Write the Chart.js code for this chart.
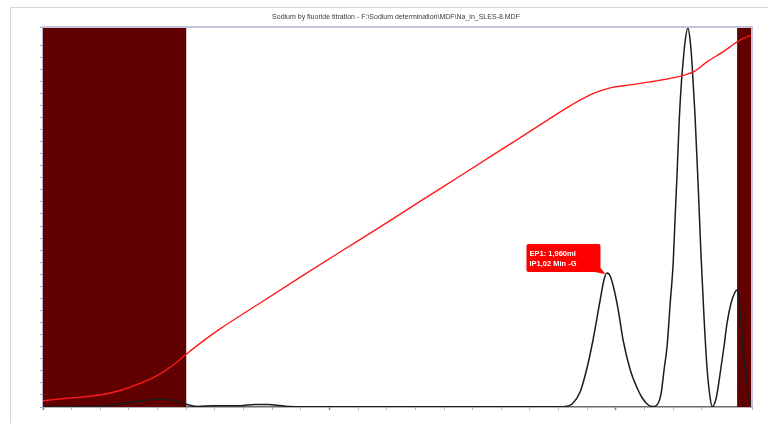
<!DOCTYPE html>
<html>
<head>
<meta charset="utf-8">
<script src="https://cdn.jsdelivr.net/npm/chart.js@4.4.1/dist/chart.umd.min.js"></script>
<style>
  html, body { margin: 0; padding: 0; background: #ffffff; }
  canvas { display: block; }
</style>
</head>
<body>
<canvas id="c" width="768" height="423"></canvas>
<script>
// ---- data (volume in ml) ----
const titleText = "Sodium by fluoride titration - F:\\Sodium determination\\MDF\\Na_in_SLES-8.MDF";

// Potential curve (red)
const potVolume = [0, 0.084, 0.199, 0.269, 0.339, 0.4015, 0.450, 0.499, 0.548, 0.618, 0.758, 0.897, 1.037, 1.177, 1.316, 1.456, 1.596, 1.735, 1.840, 1.910, 1.945, 1.987, 2.050, 2.119, 2.189, 2.242, 2.277, 2.318, 2.374, 2.434, 2.476];
const potential = [0.52, 0.72, 1.00, 1.37, 1.95, 2.65, 3.40, 4.35, 5.27, 6.47, 8.62, 10.74, 12.85, 14.93, 17.04, 19.15, 21.27, 23.38, 24.96, 25.87, 26.20, 26.49, 26.70, 26.95, 27.24, 27.53, 27.86, 28.61, 29.44, 30.43, 30.85];

// First derivative curve (black)
const derVolume = [0, 0.094, 0.199, 0.269, 0.339, 0.4015, 0.450, 0.496, 0.538, 0.594, 0.688, 0.740, 0.786, 0.828, 0.862, 0.897, 1.805, 1.823, 1.847, 1.875, 1.899, 1.920, 1.945, 1.959, 1.969, 1.980, 1.994, 2.008, 2.025, 2.050, 2.071, 2.092, 2.113, 2.130, 2.148, 2.158, 2.168, 2.179, 2.189, 2.200, 2.207, 2.214, 2.221, 2.228, 2.235, 2.242, 2.251, 2.259, 2.266, 2.276, 2.287, 2.297, 2.308, 2.318, 2.329, 2.336, 2.350, 2.364, 2.378, 2.388, 2.402, 2.416, 2.423, 2.430, 2.437, 2.444, 2.455, 2.461, 2.468, 2.475];
const derivative = [0.0, 0.13, 0.18, 0.79, 1.58, 2.03, 1.84, 0.79, 0.13, 0.34, 0.34, 0.66, 0.66, 0.39, 0.13, 0.08, 0.08, 0.13, 0.79, 3.95, 10.26, 17.63, 28.16, 33.68, 35.26, 34.47, 30.79, 25.53, 17.63, 9.74, 5.53, 2.37, 0.53, 0.13, 1.05, 3.68, 9.74, 16.32, 26.84, 38.16, 50.53, 62.37, 75.53, 84.74, 91.32, 96.58, 99.74, 96.58, 90.0, 76.84, 58.42, 40.0, 22.89, 10.26, 2.37, 0.13, 2.37, 8.95, 16.32, 22.11, 27.37, 30.26, 30.79, 28.16, 21.58, 15.00, 8.42, 3.68, 1.05, 0.26];

// Excluded (evaluation window) bands, ml
const bandStart = [0, 2.423];
const bandEnd = [0.5, 2.475];

// Endpoint annotation
const epVolume = [1.960];
const epLabels = [["EP1: 1,960ml", "IP1,02 Min -G"]];

const xMin = 0, xMax = 2.475;

function pts(xs, ys) { return xs.map((v, i) => ({ x: v, y: ys[i] })); }

const framePlugin = {
  id: 'frame',
  beforeDraw(chart) {
    const ctx = chart.ctx;
    ctx.save();
    ctx.fillStyle = '#ffffff';
    ctx.fillRect(0, 0, chart.width, chart.height);
    ctx.strokeStyle = '#d6d6cf';
    ctx.lineWidth = 1;
    ctx.beginPath();
    ctx.moveTo(10.5, chart.height);
    ctx.lineTo(10.5, 7.5);
    ctx.lineTo(chart.width, 7.5);
    ctx.stroke();
    ctx.restore();
  },
  beforeDatasetsDraw(chart) {
    const ctx = chart.ctx, a = chart.chartArea, x = chart.scales.x;
    ctx.save();
    ctx.fillStyle = '#600000';
    for (let i = 0; i < bandStart.length; i++) {
      const x0 = x.getPixelForValue(bandStart[i]);
      const x1 = x.getPixelForValue(bandEnd[i]);
      ctx.fillRect(x0, a.top, x1 - x0, a.bottom - a.top);
    }
    ctx.restore();
  },
  afterDatasetsDraw(chart) {
    const ctx = chart.ctx, a = chart.chartArea, x = chart.scales.x, y2 = chart.scales.y2;
    ctx.save();
    // top and right plot borders
    ctx.strokeStyle = '#c4c4dc';
    ctx.lineWidth = 2;
    ctx.beginPath();
    ctx.moveTo(a.left, a.top);
    ctx.lineTo(a.right, a.top);
    ctx.lineTo(a.right, a.bottom);
    ctx.stroke();

    // endpoint label
    for (let i = 0; i < epVolume.length; i++) {
      let best = 0, bestD = 1e9;
      derVolume.forEach((v, k) => { const d = Math.abs(v - epVolume[i]); if (d < bestD) { bestD = d; best = k; } });
      let pk = best;
      for (let k = Math.max(0, best - 3); k <= Math.min(derivative.length - 1, best + 3); k++) if (derivative[k] > derivative[pk]) pk = k;
      const px = x.getPixelForValue(epVolume[i]);
      const py = y2.getPixelForValue(derivative[pk]);
      const w = 74, h = 28;
      const right = px - 4, bottom = py - 1;
      const left = right - w, top = bottom - h;
      ctx.fillStyle = '#ff0000';
      ctx.beginPath();
      if (ctx.roundRect) ctx.roundRect(left, top, w, h, 2); else ctx.rect(left, top, w, h);
      ctx.fill();
      ctx.beginPath();
      ctx.moveTo(right - 6, bottom);
      ctx.lineTo(right, bottom - 4);
      ctx.lineTo(px + 1, py + 1);
      ctx.closePath();
      ctx.fill();
      ctx.fillStyle = '#ffffff';
      ctx.font = 'bold 7.5px "Liberation Sans", Arial, sans-serif';
      ctx.textBaseline = 'middle';
      ctx.fillText(epLabels[i][0], left + 3, top + 10);
      ctx.fillText(epLabels[i][1], left + 3, top + 19.5);
    }
    ctx.restore();
  }
};

new Chart(document.getElementById('c'), {
  type: 'line',
  data: {
    datasets: [
      {
        label: 'Potential',
        data: pts(potVolume, potential),
        yAxisID: 'y',
        borderColor: '#ff1a1a',
        borderWidth: 1.4,
        pointRadius: 0,
        cubicInterpolationMode: 'monotone',
        fill: false
      },
      {
        label: 'dE/dV',
        data: pts(derVolume, derivative),
        yAxisID: 'y2',
        borderColor: '#1c1c1c',
        borderWidth: 1.5,
        pointRadius: 0,
        cubicInterpolationMode: 'monotone',
        fill: false
      }
    ]
  },
  options: {
    responsive: false,
    animation: false,
    devicePixelRatio: 1,
    layout: { padding: { left: 40, right: 16, top: 0, bottom: 13 } },
    plugins: {
      legend: { display: false },
      tooltip: { enabled: false },
      title: {
        display: true,
        text: titleText,
        color: '#3a3a3a',
        font: { family: '"Liberation Sans", Arial, sans-serif', size: 7, weight: 'normal', lineHeight: 1.2 },
        padding: { top: 12.6, bottom: 6 }
      }
    },
    scales: {
      x: {
        type: 'linear',
        min: xMin,
        max: xMax,
        ticks: { display: false, stepSize: 0.1 },
        grid: {
          drawOnChartArea: false,
          drawTicks: true,
          tickLength: 3,
          tickColor: (c) => (Math.abs(c.tick.value - Math.round(c.tick.value)) < 1e-6 ? '#7878a0' : '#b4b4c8'),
          tickWidth: (c) => (Math.abs(c.tick.value - Math.round(c.tick.value)) < 1e-6 ? 1.5 : 1)
        },
        border: { display: true, color: '#6c6c74', width: 1.5 },
        afterFit(s) { s.height = 3; }
      },
      y: {
        position: 'left',
        min: 0,
        max: 31.5,
        ticks: { display: false, stepSize: 1 },
        grid: { drawOnChartArea: false, drawTicks: true, tickLength: 3, tickColor: '#a4a4c0' },
        border: { display: true, color: '#b8b8d0', width: 1.5 },
        afterFit(s) { s.width = 3; }
      },
      y2: {
        display: false,
        min: 0,
        max: 100
      }
    }
  },
  plugins: [framePlugin]
});
</script>
</body>
</html>
